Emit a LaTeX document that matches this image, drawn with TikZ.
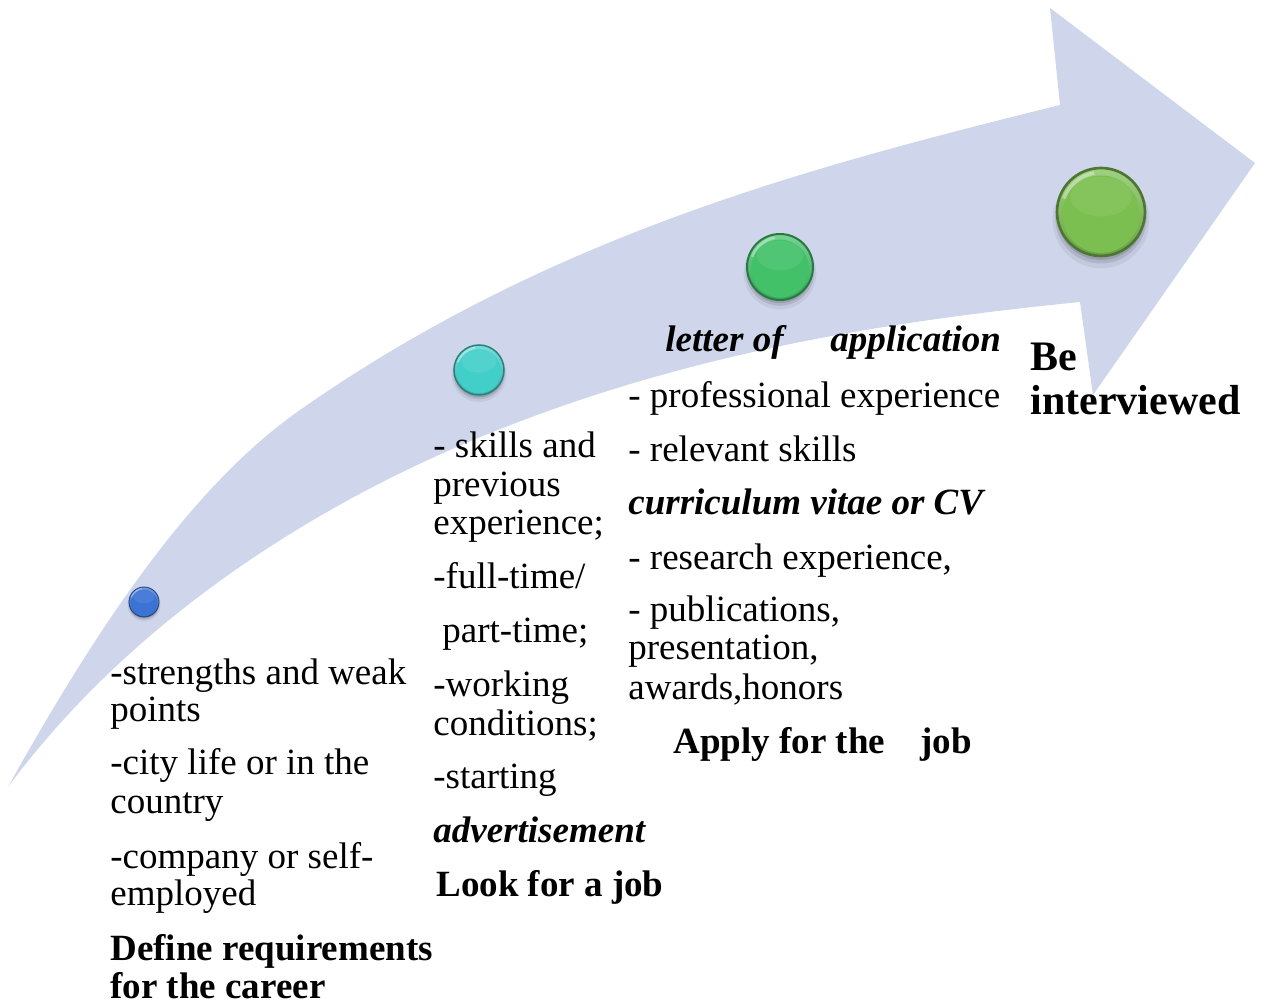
\documentclass[tikz,border=0pt]{standalone}
\usepackage{fontspec}
\setmainfont{Liberation Serif}
\definecolor{arrowc}{RGB}{207,214,235}
\definecolor{cblue}{RGB}{59,115,212}
\definecolor{ccyan}{RGB}{67,207,201}
\definecolor{cgreen}{RGB}{66,193,104}
\definecolor{clime}{RGB}{123,191,80}
\tikzset{
  txt/.style={anchor=base west, inner sep=0pt, font=\fontsize{18.5}{19.25}\selectfont},
  btxt/.style={anchor=base west, inner sep=0pt, font=\fontsize{18.5}{19.25}\selectfont\bfseries},
  bitxt/.style={anchor=base west, inner sep=0pt, font=\fontsize{18.5}{19.25}\selectfont\bfseries\itshape},
  bigtxt/.style={anchor=base west, inner sep=0pt, font=\fontsize{21}{22}\selectfont\bfseries},
  arrowbody/.style={fill=arrowc},
}
\newcommand\glossyball[5]{%
  \begin{scope}[shift={(#2,#3)}, yscale=-1]
    \fill[black,opacity=0.06] (0,-0.18*#4) circle ({1.10*#4});
    \fill[black,opacity=0.10] (0,-0.13*#4) circle ({1.04*#4});
    \fill[black,opacity=0.12] (0,-0.09*#4) circle ({1.00*#4});
    \shade[top color=#5!72!white, bottom color=#5!85!black] (0,0) circle (#4);
    \fill[#5] (0,-0.05*#4) circle ({0.88*#4});
    \fill[white,opacity=0.08] (0,0.35*#4) ellipse [x radius={0.7*#4}, y radius={0.45*#4}];
    \draw[white,opacity=0.35,line width={#4*0.04pt}] (160:{0.9*#4}) arc[start angle=160, end angle=100, radius={0.9*#4}];
    \draw[#5!62!black,line width={#4*0.03pt}] (0,0) circle (#4);
  \end{scope}
  \coordinate (#1) at (#2,#3);
}
\begin{document}
\begin{tikzpicture}[x=0.5pt,y=-0.5pt]
\useasboundingbox (0,0) rectangle (1265,1005);
% curved arrow
\coordinate (tail) at (8,787);
\coordinate (umid) at (300,410);
\coordinate (ubase) at (1060,105);
\coordinate (hTop) at (1050,8);
\coordinate (hTip) at (1255,163);
\coordinate (hBot) at (1093,395);
\coordinate (lbase) at (1080,302);
\coordinate (lmid) at (450,450);
\fill[arrowbody] (tail) .. controls (108,607) and (200,480) .. (umid)
  .. controls (550,235) and (810,167) .. (ubase)
  -- (hTop) -- (hTip) -- (hBot) -- (lbase)
  .. controls (870,323) and (660,358) .. (lmid)
  .. controls (300,516) and (128,625) .. (tail) -- cycle;
% balls
\glossyball{b1}{144}{602}{15}{cblue}
\glossyball{b2}{479}{370}{25}{ccyan}
\glossyball{b3}{780}{267}{33}{cgreen}
\glossyball{b4}{1101}{212}{44}{clime}
% column 1
\node[txt] (a1) at (110,684) {-strengths and weak};
\node[txt] (a2) at (110,722) {points};
\node[txt] (a3) at (110,775) {-city life or in the};
\node[txt] (a4) at (110,813) {country};
\node[txt] (a5) at (110,868) {-company or self-};
\node[txt] (a6) at (110,905) {employed};
\node[btxt] (a7) at (110,960) {Define requirements};
\node[btxt] (a8) at (110,998) {for the career};
% column 2
\node[txt] (c1) at (433,458) {- skills and};
\node[txt] (c2) at (433,497) {previous};
\node[txt] (c3) at (433,535) {experience;};
\node[txt] (c4) at (433,589) {-full-time/};
\node[txt] (c5) at (442,643) {part-time;};
\node[txt] (c6) at (433,697) {-working};
\node[txt] (c7) at (433,735) {conditions;};
\node[txt] (c8) at (433,788) {-starting};
\node[bitxt] (c9) at (433,842) {advertisement};
\node[btxt] (c10) at (436,896) {Look for a job};
% column 3
\node[bitxt] (d1) at (665,352) {letter of};
\node[bitxt] (d1b) at (830,352) {application};
\node[txt] (d2) at (628,408) {- professional experience};
\node[txt] (d3) at (628,462) {- relevant skills};
\node[bitxt] (d4) at (628,515) {curriculum vitae or CV};
\node[txt] (d5) at (628,570) {- research experience,};
\node[txt] (d6) at (628,622) {- publications,};
\node[txt] (d7) at (628,660) {presentation,};
\node[txt] (d8) at (628,700) {awards,honors};
\node[btxt] (d9) at (673,754) {Apply for the};
\node[btxt] (d9b) at (920,754) {job};
% column 4
\node[bigtxt] (e1) at (1030,371) {Be};
\node[bigtxt] (e2) at (1030,415) {interviewed};
\end{tikzpicture}
\end{document}
